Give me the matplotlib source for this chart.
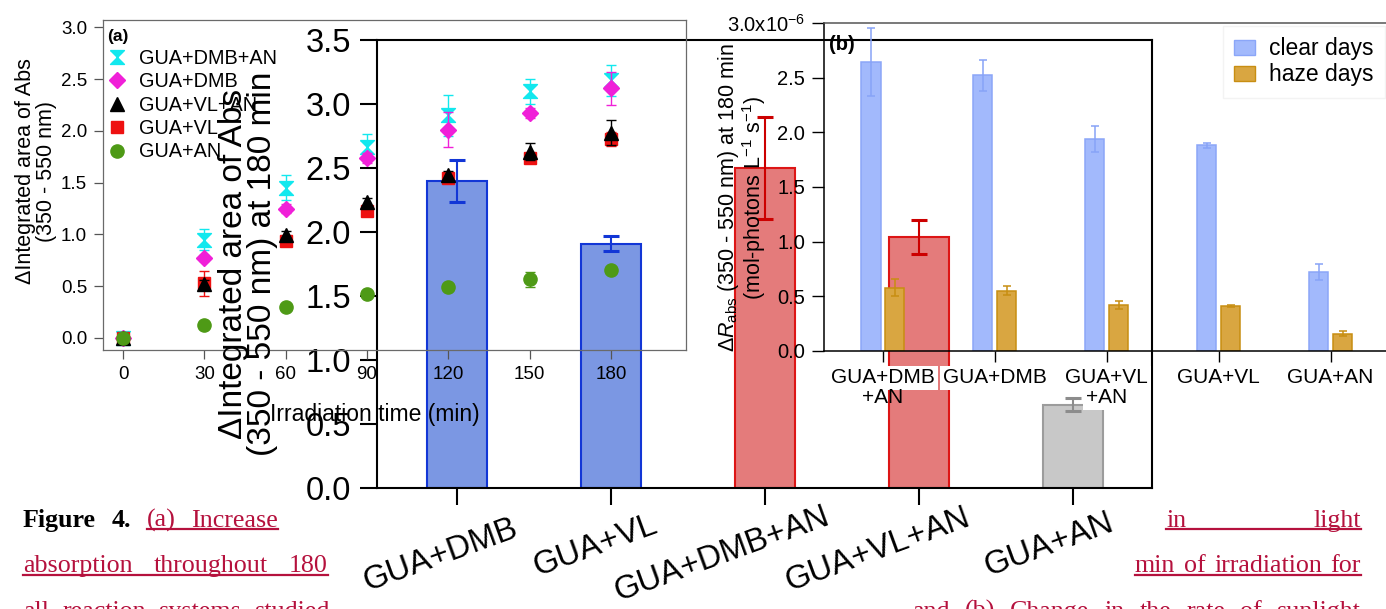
import numpy as np
import matplotlib
matplotlib.use('Agg')
import matplotlib.pyplot as plt
from matplotlib.lines import Line2D
from matplotlib.patches import Patch

plt.rcParams['font.family'] = ['Liberation Sans', 'DejaVu Sans']
plt.rcParams['mathtext.fontset'] = 'custom'
plt.rcParams['mathtext.rm'] = 'Liberation Sans'
plt.rcParams['mathtext.it'] = 'Liberation Sans:italic'
plt.rcParams['mathtext.bf'] = 'Liberation Sans:bold'

W, H = 1386, 609

# (a) increase in integrated absorbance vs irradiation time
times = [0, 30, 60, 90, 120, 150, 180]
a_labels = ['GUA+DMB+AN', 'GUA+DMB', 'GUA+VL+AN', 'GUA+VL', 'GUA+AN']
dmb_an = [0.0, 0.95, 1.45, 1.84, 2.15, 2.38, 2.49]
dmb_an_err = [0.02, 0.10, 0.12, 0.13, 0.20, 0.12, 0.15]
dmb = [0.0, 0.77, 1.25, 1.74, 2.01, 2.17, 2.41]
dmb_err = [0.02, 0.03, 0.04, 0.05, 0.17, 0.05, 0.16]
vl_an = [0.0, 0.52, 0.99, 1.31, 1.57, 1.80, 1.98]
vl_an_err = [0.02, 0.04, 0.04, 0.04, 0.04, 0.08, 0.12]
vl = [0.0, 0.53, 0.94, 1.23, 1.545, 1.735, 1.92]
vl_err = [0.02, 0.12, 0.04, 0.04, 0.04, 0.04, 0.07]
an = [0.0, 0.125, 0.30, 0.42, 0.495, 0.567, 0.656]
an_err = [0.01, 0.04, 0.02, 0.02, 0.02, 0.07, 0.03]

# big overlaid bar chart (area at 180 min)
m_cats = ['GUA+DMB', 'GUA+VL', 'GUA+DMB+AN', 'GUA+VL+AN', 'GUA+AN']
m_vals = [2.40, 1.91, 2.50, 1.96, 0.65]
m_errs = [0.165, 0.06, 0.40, 0.13, 0.05]

# (b) rate of sunlight absorption
b_cats = ['GUA+DMB\n+AN', 'GUA+DMB', 'GUA+VL\n+AN', 'GUA+VL', 'GUA+AN']
clear = [2.64e-6, 2.52e-6, 1.94e-6, 1.88e-6, 0.725e-6]
clear_err = [0.31e-6, 0.14e-6, 0.12e-6, 0.025e-6, 0.075e-6]
haze = [0.58e-6, 0.55e-6, 0.42e-6, 0.415e-6, 0.16e-6]
haze_err = [0.075e-6, 0.04e-6, 0.04e-6, 0.01e-6, 0.025e-6]


def box(l, t, r, b):
    return [l / W, 1 - b / H, (r - l) / W, (b - t) / H]


def fx(x):
    return x / W


def fy(y):
    return 1 - y / H


fig = plt.figure(figsize=(W / 100, H / 100), dpi=100)
fig.patch.set_facecolor('white')

# ---- middle bar chart ----
axm = fig.add_axes(box(377, 40, 1152, 488), zorder=0)
axm.set_facecolor('none')
xm = np.arange(len(m_cats))
fills = ['#7b97e3', '#7b97e3', '#e47b7b', '#e47b7b', '#c8c8c8']
edges = ['#1236d6', '#1236d6', '#dd1515', '#dd1515', '#9c9c9c']
errc = ['#1236d6', '#1236d6', '#cc0000', '#cc0000', '#8c8c8c']
axm.bar(xm, m_vals, width=0.39, color=fills, edgecolor=edges, linewidth=1.5, zorder=2)
for i in range(len(m_cats)):
    axm.errorbar(xm[i], m_vals[i], yerr=m_errs[i], fmt='none', ecolor=errc[i],
                 elinewidth=1.5, capsize=5.8, capthick=2.2, zorder=3)
axm.set_xlim(-0.52, 4.51)
axm.set_ylim(0, 3.5)
axm.set_yticks(np.arange(0, 3.51, 0.5))
axm.yaxis.set_major_formatter('{x:.1f}')
axm.set_xticks(xm)
axm.set_xticklabels([])
axm.tick_params(direction='out', length=12.2, width=1.5, labelsize=23.5, pad=6.5)
for s in axm.spines.values():
    s.set_linewidth(1.5)
m_lab_dx = [-0.11, -0.10, -0.28, -0.27, -0.16]
m_lab_y = [-0.15, -0.13, -0.148, -0.137, -0.126]
for i, c in enumerate(m_cats):
    axm.text(xm[i] + m_lab_dx[i], m_lab_y[i], c, transform=axm.get_xaxis_transform(),
             rotation=20, rotation_mode='anchor', ha='center', va='center', fontsize=23.5)
fig.text(fx(248), fy(264), 'ΔIntegrated area of Abs\n(350 - 550 nm) at 180 min',
         rotation=90, ha='center', va='center', fontsize=24, linespacing=0.95)

# ---- panel (b) ----
axb = fig.add_axes(box(824, 23, 1400, 351), zorder=1)
axb.set_facecolor('none')
xb = np.arange(len(b_cats))
axb.bar(xb - 0.107, clear, 0.17, color='#a2b9fc', edgecolor='#8ba6f8', linewidth=1.1,
        yerr=clear_err, error_kw=dict(ecolor='#87a3f7', elinewidth=1.1, capsize=2.9, capthick=1.1))
axb.bar(xb + 0.107, haze, 0.17, color='#d9a641', edgecolor='#c88e12', linewidth=1.1,
        yerr=haze_err, error_kw=dict(ecolor='#c88e12', elinewidth=1.1, capsize=2.9, capthick=1.1))
axb.set_xlim(-0.527, 4.62)
axb.set_ylim(0, 3.0e-6)
axb.set_yticks([0, 0.5e-6, 1.0e-6, 1.5e-6, 2.0e-6, 2.5e-6, 3.0e-6])
axb.yaxis.set_major_formatter(
    lambda v, p: r'3.0x10$^{-6}$' if v > 2.9e-6 else f'{v * 1e6:.1f}')
axb.set_xticks(xb)
axb.set_xticklabels([])
axb.spines['right'].set_visible(False)
axb.spines['top'].set_color('#555555')
for s in axb.spines.values():
    s.set_linewidth(1.1)
axb.tick_params(axis='y', direction='out', length=8.6, width=1, labelsize=14.5, pad=5)
axb.tick_params(axis='x', direction='out', length=8, width=1)
for i, c in enumerate(b_cats):
    lines = c.split('\n')
    for j, ln in enumerate(lines):
        boxed = not (i == 0 and j == 1)
        axb.text(xb[i], -0.082 - 0.061 * j, ln, transform=axb.get_xaxis_transform(),
                 ha='center', va='center', fontsize=15,
                 bbox=dict(facecolor='white', edgecolor='none', pad=2) if boxed else None)
fig.text(fx(742), fy(198),
         'Δ$\\mathit{R}_{\\mathrm{abs}}$ (350 - 550 nm) at 180 min\n(mol-photons L$^{-1}$ s$^{-1}$)',
         rotation=90, ha='center', va='center', fontsize=15.5, linespacing=1.0)
fig.text(fx(829), fy(44), '(b)', weight='bold', fontsize=14.5, ha='left', va='center')
hb = [Patch(facecolor='#a2b9fc', edgecolor='#8ba6f8'), Patch(facecolor='#d9a641', edgecolor='#c88e12')]
fig.legend(hb, ['clear days', 'haze days'], loc='upper left',
           bbox_to_anchor=(fx(1223), fy(26)), bbox_transform=fig.transFigure,
           fontsize=16.5, frameon=True, edgecolor='#f3f3f3', fancybox=False, framealpha=1,
           borderpad=0.5, handlelength=0.9, handleheight=0.65, handletextpad=0.6,
           labelspacing=0.12, borderaxespad=0)

# ---- panel (a) ----
axa = fig.add_axes(box(103, 20, 686, 350), zorder=2)
axa.set_facecolor('none')
hourglass = [(-1, 1), (1, 1), (-1, -1), (1, -1), (-1, 1)]
series = [
    (dmb_an, dmb_an_err, '#12e8ee', hourglass, 10, 3),
    (dmb, dmb_err, '#f020d8', 'D', 8.5, 4),
    (vl_an, vl_an_err, 'black', '^', 9.5, 6),
    (vl, vl_err, '#ee1111', 's', 9, 5),
    (an, an_err, '#4e9a16', 'o', 9.5, 7),
]
handles = []
for (vals, errs, col, mk, ms, z), lab in zip(series, a_labels):
    axa.errorbar(times, vals, yerr=errs, fmt='none', ecolor=col, elinewidth=1,
                 capsize=3.5, capthick=1, zorder=z)
    axa.plot(times, vals, linestyle='none', marker=mk, ms=ms, color=col, mec=col, zorder=z)
    handles.append(Line2D([], [], linestyle='none', marker=mk, ms=ms, color=col))
axa.set_xlim(-7.4, 207.7)
axa.set_ylim(-0.116, 3.07)
axa.set_xticks(times)
axa.set_yticks(np.arange(0, 3.01, 0.5))
axa.yaxis.set_major_formatter('{x:.1f}')
axa.tick_params(direction='out', length=6.5, width=0.9, color='#555555', labelsize=13.5, pad=5)
for s in axa.spines.values():
    s.set_color('#6a6a6a')
    s.set_linewidth(0.9)
axa.legend(handles, a_labels, loc='upper left', bbox_to_anchor=(fx(107), fy(49)),
           bbox_transform=fig.transFigure, frameon=False, fontsize=14.3,
           handlelength=1.0, handletextpad=0.6, labelspacing=0.22, borderpad=0, borderaxespad=0)
fig.text(fx(107), fy(36), '(a)', weight='bold', fontsize=12.5, ha='left', va='center')
fig.text(fx(36), fy(171), 'ΔIntegrated area of Abs\n(350 - 550 nm)', rotation=90,
         ha='center', va='center', fontsize=15.5, linespacing=1.0)
fig.text(fx(375), fy(414), 'Irradiation time (min)', ha='center', va='center', fontsize=16.5)

# ---- caption text around the figure ----
crimson = '#b5113d'
renderer = fig.canvas.get_renderer()


def justify(words, x0, x1, ybase):
    arts = []
    for w, wt, col in words:
        arts.append(fig.text(0, fy(ybase), w, fontsize=18.7, family='Liberation Serif',
                             weight=wt, color=col, va='baseline', ha='left'))
    widths = [t.get_window_extent(renderer).width for t in arts]
    gap = (x1 - x0 - sum(widths)) / max(len(arts) - 1, 1)
    x = x0
    for t, wd in zip(arts, widths):
        t.set_x(fx(x))
        x += wd + gap


def underline(x0, x1, y):
    fig.add_artist(Line2D([fx(x0), fx(x1)], [fy(y), fy(y)], transform=fig.transFigure,
                          color=crimson, lw=1.6))


def red(words):
    return [(w, 'normal', crimson) for w in words]


justify([('Figure', 'bold', 'black'), ('4.', 'bold', 'black')] + red(['(a)', 'Increase']),
        23, 278, 527)
underline(147, 278, 529)
justify(red(['absorption', 'throughout', '180']), 23, 328, 572)
underline(23, 328, 575)
justify(red(['all', 'reaction', 'systems', 'studied']), 23, 330, 618)
justify(red(['in', 'light']), 1167, 1361, 527)
underline(1166, 1361, 529)
justify(red(['min', 'of', 'irradiation', 'for']), 1135, 1361, 572)
underline(1135, 1361, 575)
justify(red(['and', '(b)', 'Change', 'in', 'the', 'rate', 'of', 'sunlight']), 912, 1361, 618)

fig.savefig('out.png', dpi=100)
